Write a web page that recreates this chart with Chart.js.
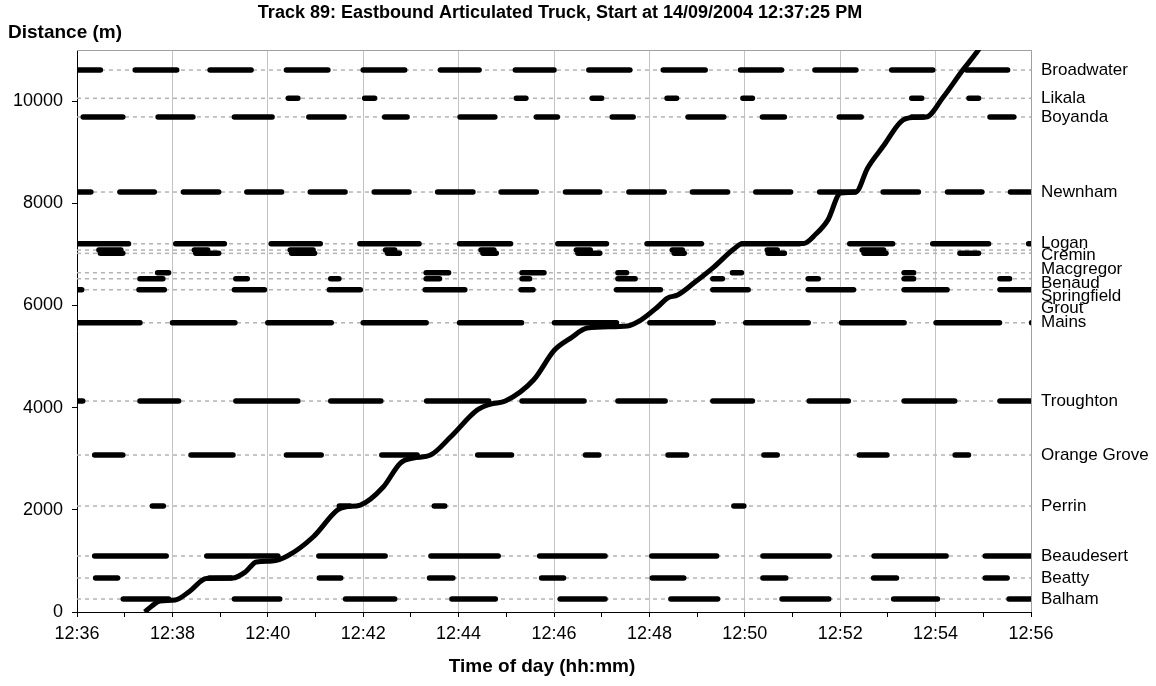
<!DOCTYPE html>
<html>
<head>
<meta charset="utf-8">
<script src="https://cdn.jsdelivr.net/npm/chart.js@4.4.1/dist/chart.umd.min.js"></script>
<style>
  html, body { margin: 0; padding: 0; background: #fff; }
  #wrap { width: 1156px; height: 686px; position: relative; }
</style>
</head>
<body>
<div id="wrap"><canvas id="trackChart" width="1156" height="686"></canvas></div>
<script>
// time is in minutes after 12:36, distance in metres
const xTickLabels = ["12:36", "12:38", "12:40", "12:42", "12:44", "12:46", "12:48", "12:50", "12:52", "12:54", "12:56"];
const yTickValues = [0, 2000, 4000, 6000, 8000, 10000];

const intersectionNames = ["Broadwater", "Likala", "Boyanda", "Newnham", "Logan", "Cremin", "Macgregor",
    "Benaud", "Springfield", "Grout", "Mains", "Troughton", "Orange Grove", "Perrin", "Beaudesert", "Beatty", "Balham"];
const intersectionDist = [10607, 10055, 9690, 8220, 7208, 7084, 7020, 6640, 6523, 6307, 5661, 4129, 3072, 2074, 1096, 665, 254];
// where the name is written (some are pushed apart so they do not overlap)
const labelDist = [10607, 10055, 9690, 8220, 7221, 6986, 6712, 6438, 6184, 5949, 5675, 4129, 3072, 2074, 1096, 665, 254];

// red phases [start, end] at each signal
const redBroadwater = [[0, 0.54], [1.17, 2.14], [2.74, 3.70], [4.34, 5.31], [5.95, 6.92], [7.57, 8.48], [9.14, 10.05],
    [10.68, 11.64], [12.24, 13.22], [13.86, 14.82], [15.42, 16.38], [17.03, 17.99], [18.60, 19.56]];
const redLikala = [[4.38, 4.68], [5.98, 6.29], [9.16, 9.46], [10.75, 11.05], [12.32, 12.62], [13.91, 14.21], [17.45, 17.76], [18.65, 18.95]];
const redBoyanda = [[0.08, 1.01], [1.65, 2.48], [3.25, 4.14], [4.81, 5.65], [6.40, 6.97], [7.98, 8.81], [9.58, 10.12],
    [11.17, 11.71], [12.76, 13.61], [14.32, 14.88], [15.93, 16.49], [17.45, 17.80], [19.09, 19.69]];
const redNewnham = [[0, 0.34], [0.85, 1.67], [2.18, 3.02], [3.51, 4.34], [4.84, 5.67], [6.18, 7.01], [7.51, 8.35], [8.84, 9.68],
    [10.19, 11.01], [11.52, 12.36], [12.85, 13.69], [14.18, 15.01], [15.52, 16.36], [16.85, 17.69], [18.20, 19.02], [19.52, 20]];
const redLogan = [[0, 1.13], [2.02, 3.14], [4.02, 5.15], [5.88, 7.22], [7.97, 9.14], [10.03, 11.15], [11.90, 13.14],
    [13.90, 15.20], [16.15, 17.15], [17.89, 19.16], [19.90, 20]];
const redCremin = [[0.41, 0.97], [2.41, 2.79], [4.42, 5.00], [6.42, 6.71], [8.42, 8.79], [10.42, 10.81], [12.43, 12.74],
    [14.42, 14.73], [16.41, 16.96]];
const redMacgregor = [[0.44, 1.01], [2.44, 3.02], [4.45, 5.03], [6.46, 6.81], [8.46, 8.84], [10.45, 11.01], [12.47, 12.78],
    [14.44, 14.88], [16.45, 17.01], [18.46, 18.95]];
const redBenaud = [[1.64, 1.97], [7.27, 7.84], [9.28, 9.84], [11.29, 11.57], [13.69, 13.98], [17.29, 17.59]];
const redSpringfield = [[1.27, 1.85], [3.28, 3.62], [5.27, 5.54], [7.27, 7.65], [9.28, 9.54], [11.29, 11.75], [13.28, 13.58],
    [15.28, 15.59], [17.29, 17.59], [19.30, 19.60]];
const redGrout = [[0, 0.15], [1.25, 1.88], [3.25, 3.98], [5.24, 5.99], [7.25, 8.18], [9.26, 9.61], [11.26, 12.28],
    [13.28, 14.12], [15.28, 16.33], [17.29, 18.29], [19.30, 20]];
const redMains = [[0, 1.37], [1.95, 3.36], [3.95, 5.38], [5.95, 7.37], [7.97, 9.37], [9.96, 11.36], [11.96, 13.39],
    [13.97, 15.38], [15.98, 17.39], [17.96, 19.39], [19.96, 20]];
const redTroughton = [[0, 0.17], [1.27, 2.18], [3.28, 4.68], [5.27, 6.42], [7.28, 8.68], [9.28, 10.68], [11.29, 12.38],
    [13.28, 14.21], [15.30, 16.22], [17.29, 18.45], [19.30, 20]];
const redOrangeGrove = [[0.32, 1.01], [2.34, 3.32], [4.34, 5.17], [6.34, 7.18], [8.35, 9.16], [10.61, 10.99], [12.34, 12.83],
    [14.35, 14.73], [16.35, 17.03], [18.36, 18.74]];
const redPerrin = [[1.53, 1.86], [5.45, 5.77], [7.44, 7.76], [13.72, 14.03]];
const redBeaudesert = [[0.32, 1.92], [2.67, 4.26], [5.02, 6.51], [7.37, 8.88], [9.65, 11.12], [12.00, 13.46], [14.33, 15.82],
    [16.66, 18.27], [18.99, 20]];
const redBeatty = [[0.34, 0.90], [2.72, 3.28], [5.03, 5.58], [7.34, 7.93], [9.69, 10.25], [12.01, 12.77], [14.33, 14.91],
    [16.65, 17.23], [18.99, 19.55]];
const redBalham = [[0.92, 1.97], [3.25, 4.30], [5.58, 6.71], [7.81, 8.82], [10.08, 11.12], [12.40, 13.48], [14.73, 15.81],
    [17.07, 18.09], [19.49, 20]];

const redPhases = [redBroadwater, redLikala, redBoyanda, redNewnham, redLogan, redCremin, redMacgregor, redBenaud,
    redSpringfield, redGrout, redMains, redTroughton, redOrangeGrove, redPerrin, redBeaudesert, redBeatty, redBalham];

// truck trajectory
const truckTime = [1.42, 1.57, 1.74, 2.06, 2.37, 2.71, 3.27, 3.53, 3.76, 4.09, 4.41, 4.95, 5.46, 5.62, 5.94, 6.42, 6.78,
    7.05, 7.41, 7.83, 8.39, 8.67, 8.98, 9.57, 10.01, 10.35, 10.70, 11.54, 11.82, 12.17, 12.38, 12.59, 12.93, 13.35,
    13.77, 13.96, 15.23, 15.49, 15.74, 16.01, 16.33, 16.57, 16.92, 17.27, 17.52, 17.80, 18.15, 18.57, 18.85, 18.95];
const truckDist = [0, 117, 215, 235, 411, 656, 665, 783, 978, 998, 1096, 1468, 1996, 2055, 2094, 2446, 2916,
    3014, 3072, 3425, 3953, 4070, 4129, 4540, 5127, 5362, 5558, 5597, 5714, 5969, 6145, 6204, 6438, 6751,
    7104, 7211, 7211, 7397, 7671, 8200, 8219, 8683, 9139, 9595, 9677, 9687, 10065, 10607, 10940, 11076];

const FONT = "'Liberation Sans', Arial, sans-serif";
const CAP_TRIM = 0.05; // round line caps stick out ~2.5px past each end

function buildDatasets() {
    let sets = [];

    intersectionDist.forEach(function (d) {
        sets.push({
            data: [{x: 0, y: d}, {x: 20, y: d}],
            borderColor: "#b4b4b4",
            borderWidth: 1.5,
            borderDash: [4, 4],
            order: 3
        });
    });

    redPhases.forEach(function (phases, i) {
        let pts = [];
        phases.forEach(function (p) {
            let s = p[0] > 0 ? p[0] + CAP_TRIM : p[0];
            let e = p[1] < 20 ? p[1] - CAP_TRIM : p[1];
            pts.push({x: s, y: intersectionDist[i]});
            pts.push({x: e, y: intersectionDist[i]});
            pts.push({x: e, y: null});
        });
        sets.push({
            data: pts,
            borderColor: "#000",
            borderWidth: 5.5,
            borderCapStyle: "round",
            spanGaps: false,
            order: 2
        });
    });

    sets.push({
        data: truckTime.map(function (t, i) { return {x: t, y: truckDist[i]}; }),
        borderColor: "#000",
        borderWidth: 5,
        cubicInterpolationMode: "monotone",
        order: 1
    });

    return sets;
}

// titles, names on the right and the grey frame
const decorPlugin = {
    id: "decor",
    beforeDatasetsDraw: function (chart) {
        let ctx = chart.ctx;
        let area = chart.chartArea;
        ctx.save();
        ctx.strokeStyle = "#a0a0a0";
        ctx.lineWidth = 1;
        ctx.beginPath();
        ctx.moveTo(area.left, area.top + 0.5);
        ctx.lineTo(area.right + 0.5, area.top + 0.5);
        ctx.lineTo(area.right + 0.5, area.bottom);
        ctx.stroke();
        ctx.restore();
    },
    afterDraw: function (chart) {
        let ctx = chart.ctx;
        let area = chart.chartArea;
        let yScale = chart.scales.y;
        ctx.save();
        ctx.fillStyle = "#000";
        ctx.textBaseline = "middle";

        ctx.font = "bold 18px " + FONT;
        ctx.textAlign = "center";
        ctx.fillText("Track 89: Eastbound Articulated Truck, Start at 14/09/2004 12:37:25 PM", 560, 13);
        ctx.font = "bold 19px " + FONT;
        ctx.fillText("Time of day (hh:mm)", 542, 667);
        ctx.textAlign = "left";
        ctx.fillText("Distance (m)", 8, 33);

        ctx.font = "17px " + FONT;
        intersectionNames.forEach(function (name, i) {
            ctx.fillText(name, area.right + 10, yScale.getPixelForValue(labelDist[i]));
        });
        ctx.restore();
    }
};

let config = {
    type: "scatter",
    data: {datasets: buildDatasets()},
    options: {
        responsive: false,
        animation: false,
        showLine: true,
        layout: {padding: {left: 0, top: 50, right: 125, bottom: 0}},
        elements: {point: {radius: 0, hoverRadius: 0}, line: {tension: 0}},
        plugins: {legend: {display: false}, tooltip: {enabled: false}, title: {display: false}},
        scales: {
            x: {
                type: "linear",
                min: 0,
                max: 20,
                afterFit: function (scale) { scale.height = 74; },
                border: {display: true, color: "#000", width: 1},
                grid: {
                    color: function (c) { return c.tick && c.tick.value % 2 === 0 ? "#c4c4c4" : "rgba(0,0,0,0)"; },
                    tickColor: "#000",
                    tickLength: 5,
                    lineWidth: 1
                },
                ticks: {
                    stepSize: 1,
                    autoSkip: false,
                    maxRotation: 0,
                    padding: 6,
                    color: "#000",
                    font: {family: FONT, size: 18},
                    callback: function (v) { return v % 2 === 0 ? xTickLabels[v / 2] : ""; }
                }
            },
            y: {
                type: "linear",
                min: 0,
                max: 11000,
                afterFit: function (scale) { scale.width = 77; },
                afterBuildTicks: function (scale) {
                    scale.ticks = yTickValues.map(function (v) { return {value: v}; });
                },
                border: {display: true, color: "#000", width: 1},
                grid: {drawOnChartArea: false, color: "#000", tickLength: 5},
                ticks: {
                    padding: 9,
                    color: "#000",
                    font: {family: FONT, size: 18},
                    callback: function (v) { return String(v); }
                }
            }
        }
    },
    plugins: [decorPlugin]
};

new Chart(document.getElementById("trackChart").getContext("2d"), config);
</script>
</body>
</html>
